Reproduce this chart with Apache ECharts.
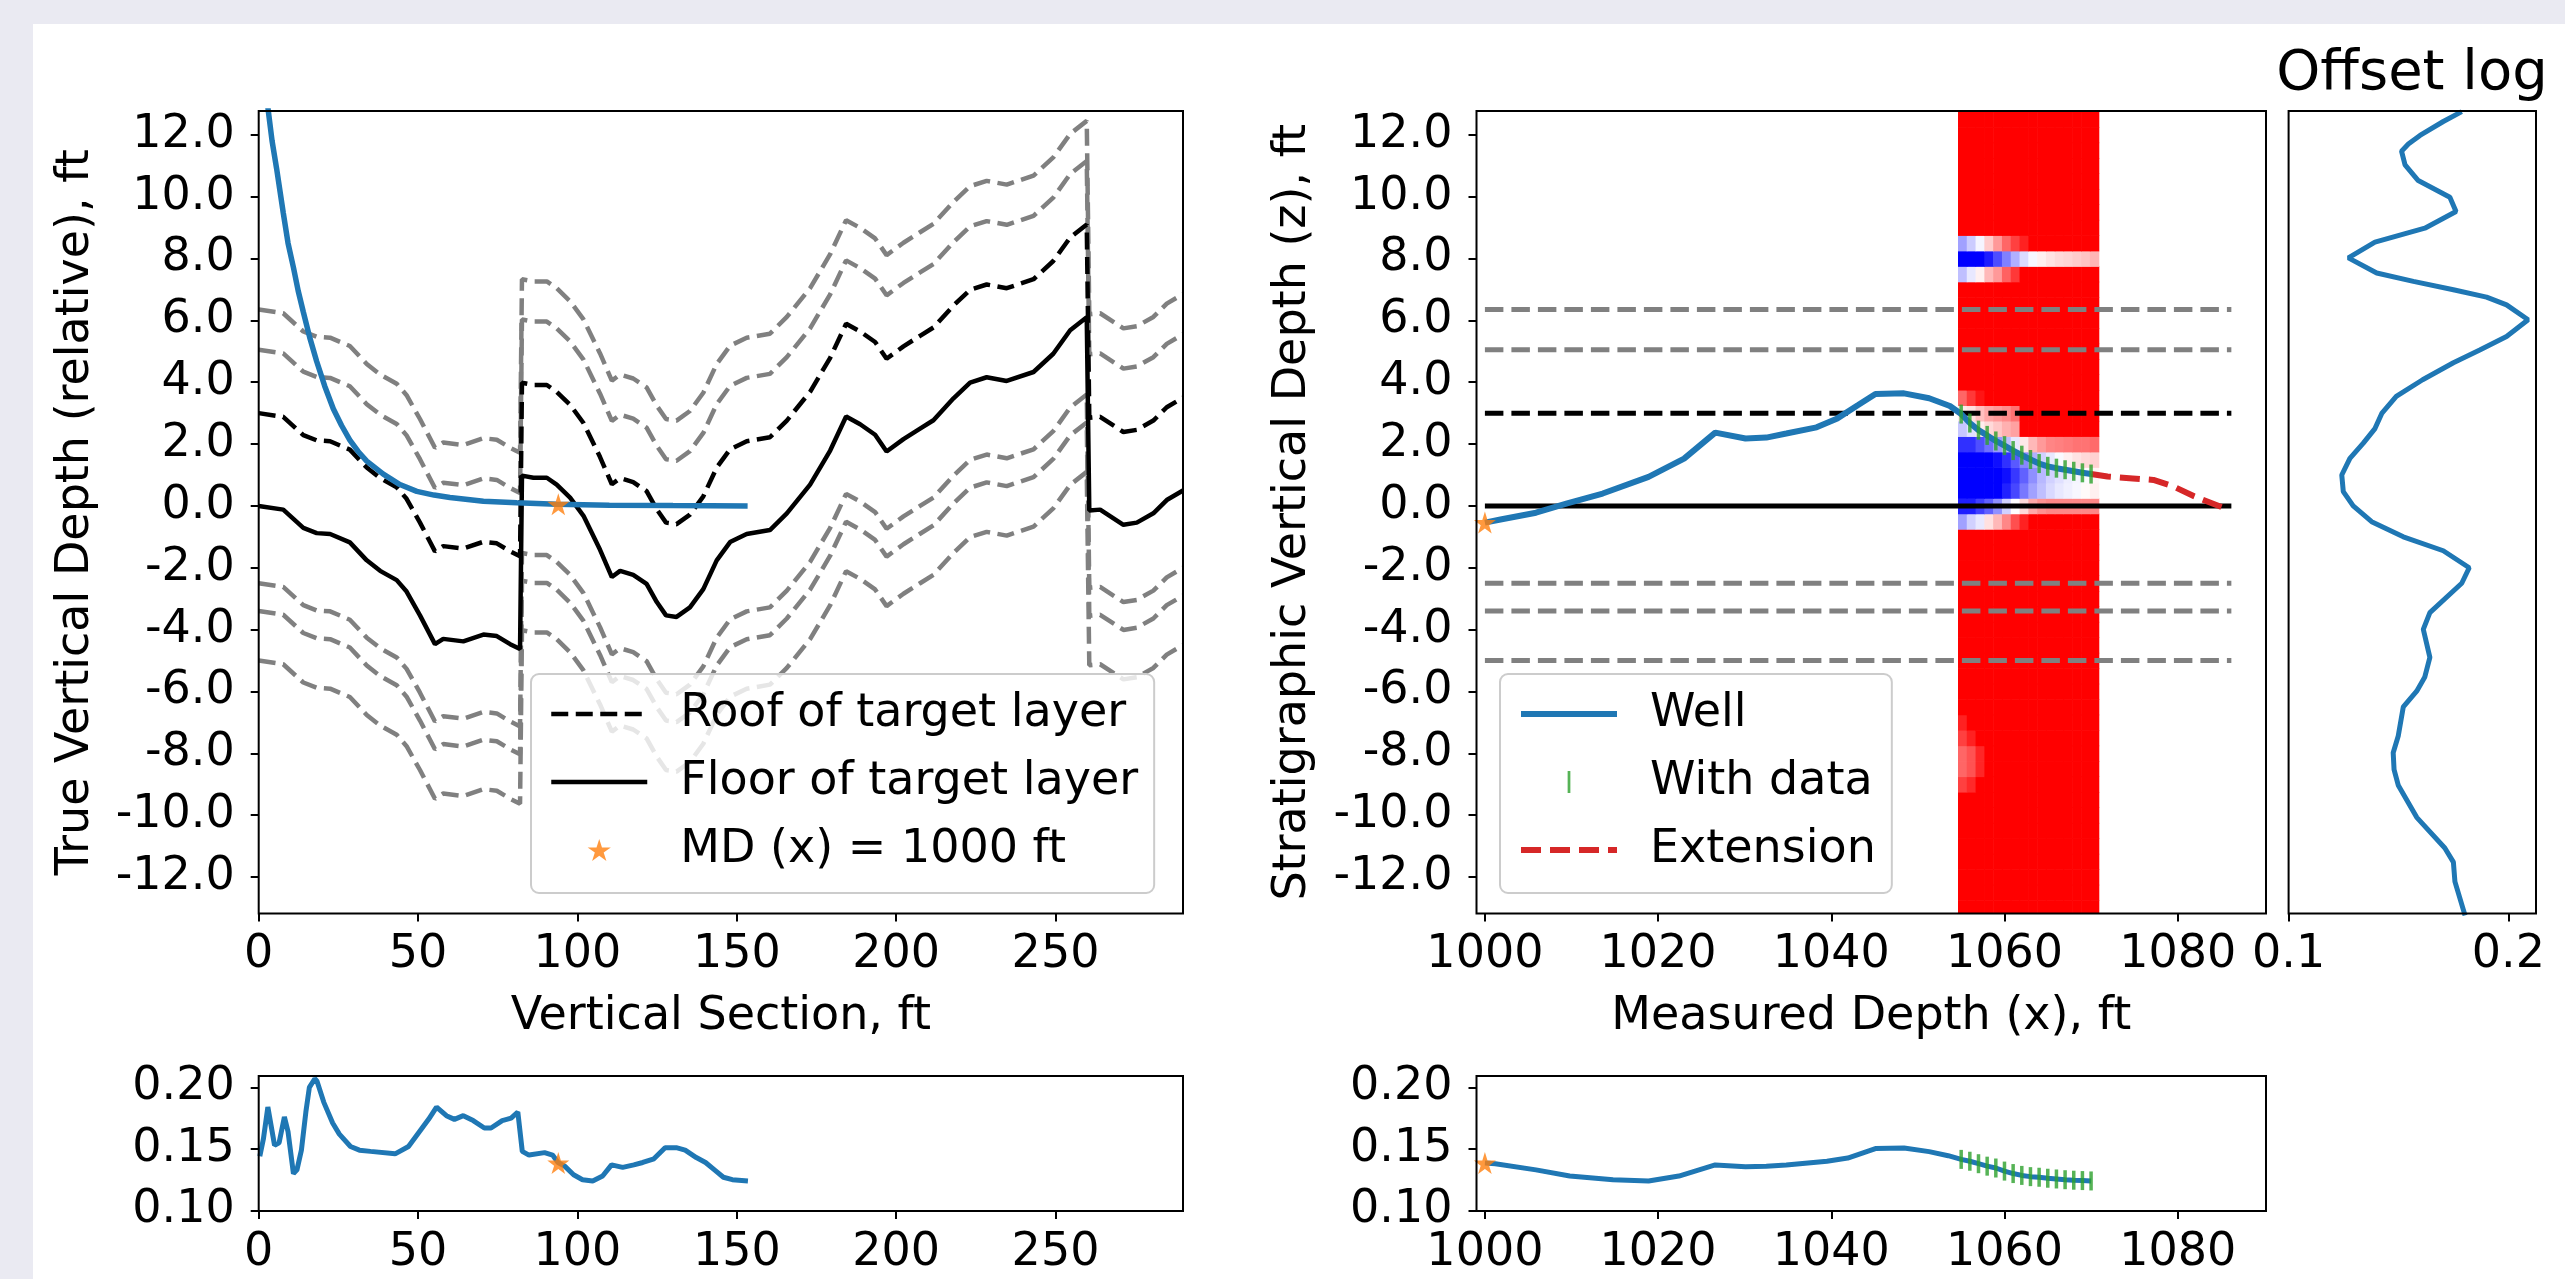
<!DOCTYPE html>
<html>
<head>
<meta charset="utf-8">
<script src="https://cdn.jsdelivr.net/npm/echarts@6/dist/echarts.min.js"></script>
<style>
html,body{margin:0;padding:0;background:#eaeaf2;}
#chart{width:2565px;height:1279px;}
</style>
</head>
<body>
<div id="chart"></div>
<script>
// ================= DATA =================
const vsTicks = [0, 50, 100, 150, 200, 250];
const mdTicks = [1000, 1020, 1040, 1060, 1080];
const depthTicks = [-12, -10, -8, -6, -4, -2, 0, 2, 4, 6, 8, 10, 12];
const logTicks = [0.10, 0.15, 0.20];
const offsetTicks = [0.1, 0.2];

// Floor of target layer along vertical section (with two faults)
const floorVS = [0, 7.7, 14, 18.2, 22.4, 28.6, 33.9, 38.1, 43.3, 46.4, 50.6, 55.3, 57.9, 64.2, 70.5, 74.7, 78.9, 82.0, 82.6, 86.2, 90.4, 93.5, 97.7, 101.9, 107.1, 110.8, 113.4, 117.5, 121.7, 124.9, 127.8, 131.1, 135.3, 139.5, 143.7, 147.9, 153.1, 160.4, 165.7, 173, 179.3, 184.3, 188.7, 193.4, 197.0, 202.3, 207.5, 211.7, 218, 223.2, 228.4, 234.7, 243.1, 249.3, 254.6, 259.8, 260.6, 264, 271.3, 275.5, 280.7, 284.9, 290];
const floorTVD = [0, -0.12, -0.71, -0.88, -0.91, -1.18, -1.76, -2.1, -2.4, -2.77, -3.54, -4.47, -4.3, -4.38, -4.16, -4.21, -4.47, -4.63, 0.98, 0.91, 0.91, 0.69, 0.27, -0.32, -1.42, -2.3, -2.1, -2.23, -2.52, -3.11, -3.54, -3.59, -3.28, -2.69, -1.76, -1.17, -0.91, -0.78, -0.24, 0.69, 1.79, 2.89, 2.64, 2.3, 1.76, 2.16, 2.5, 2.77, 3.48, 3.99, 4.16, 4.04, 4.33, 4.92, 5.68, 6.1, -0.15, -0.12, -0.61, -0.54, -0.24, 0.19, 0.5];

// Stratigraphic horizons (relative to floor)
const layerZ = [6.35, 5.05, 3.0, 0.0, -2.5, -3.4, -5.0];
const roofZ = 3.0;
const floorZ = 0.0;

// Well in TVD vs vertical section
const wellVS = [2.4, 3.0, 4.2, 5.6, 7.7, 9.2, 10.9, 12.4, 14, 16, 18.2, 20.7, 23.4, 26, 28.6, 31.2, 33.9, 39.1, 44.3, 49.6, 55, 60, 70.5, 81, 93.5, 110, 130, 153.4];
const wellTVD = [13.4, 12.78, 11.8, 10.92, 9.48, 8.5, 7.71, 6.95, 6.27, 5.45, 4.67, 3.88, 3.14, 2.6, 2.13, 1.76, 1.45, 1.03, 0.69, 0.47, 0.35, 0.27, 0.15, 0.1, 0.05, 0.02, 0.01, 0.0];
const startVS = 94, startTVD = 0.05;

// Well in stratigraphic coordinates
const wellMD = [1000, 1001.8, 1005.9, 1009.5, 1013.6, 1018.9, 1023, 1026.6, 1030.1, 1032.5, 1034.8, 1038.3, 1040.7, 1043.1, 1045.1, 1048.4, 1051.3, 1053.7, 1055, 1056, 1057, 1058, 1059, 1060, 1061, 1062, 1063, 1064, 1065, 1066, 1067, 1068, 1069, 1070];
const wellZ = [-0.54, -0.44, -0.22, 0.08, 0.40, 0.94, 1.53, 2.37, 2.18, 2.21, 2.34, 2.54, 2.83, 3.26, 3.62, 3.64, 3.48, 3.23, 2.97, 2.68, 2.45, 2.28, 2.10, 1.95, 1.79, 1.64, 1.50, 1.37, 1.28, 1.22, 1.17, 1.12, 1.07, 1.03];
const withDataMD = [1055, 1056, 1057, 1058, 1059, 1060, 1061, 1062, 1063, 1064, 1065, 1066, 1067, 1068, 1069, 1070];
const extMD = [1070, 1071.9, 1074.8, 1077.2, 1079.5, 1081.9, 1085.4];
const extZ = [1.03, 0.95, 0.89, 0.84, 0.63, 0.31, -0.07];
const startMD = 1000, startZ = -0.54;
const horizonMD = [1000, 1086.2];

// Similarity image (MD columns x z rows); rows not listed are fully red (1)
const hmMDRange = [1054.63, 1070.88];
const hmZRange = [-13.75, 13.25];
const hmRowZ = [8.5, 8.0, 7.5, 3.5, 3.0, 2.5, 2.0, 1.5, 1.0, 0.5, 0.0, -0.5, -7.0, -7.5, -8.0, -8.5, -9.0];
const hmRowVals = [
  [-0.37, -0.2, -0.04, 0.2, 0.4, 0.6, 0.75, 0.87, 1, 1, 1, 1, 1, 1, 1, 1],
  [-1, -1, -1, -0.89, -0.7, -0.5, -0.31, -0.14, -0.03, 0.06, 0.11, 0.15, 0.17, 0.2, 0.23, 0.29],
  [-0.25, -0.09, 0.06, 0.28, 0.4, 0.62, 0.78, 1, 1, 1, 1, 1, 1, 1, 1, 1],
  [0.6, 0.78, 0.92, 1, 1, 1, 1, 1, 1, 1, 1, 1, 1, 1, 1, 1],
  [0.08, 0.12, 0.25, 0.35, 0.4, 0.45, 0.55, 1, 1, 1, 1, 1, 1, 1, 1, 1],
  [-0.22, -0.12, 0.07, 0.15, 0.22, 0.31, 0.37, 1, 1, 1, 1, 1, 1, 1, 1, 1],
  [-0.81, -0.81, -0.69, -0.56, -0.4, -0.25, -0.09, 0.09, 0.28, 0.4, 0.48, 0.5, 0.52, 0.55, 0.55, 0.58],
  [-1, -1, -1, -1, -0.94, -0.81, -0.65, -0.47, -0.31, -0.18, -0.09, -0.02, 0.06, 0.11, 0.15, 0.18],
  [-1, -1, -1, -1, -1, -0.94, -0.78, -0.62, -0.44, -0.28, -0.18, -0.12, -0.07, -0.04, -0.01, 0.04],
  [-1, -1, -1, -1, -1, -0.87, -0.72, -0.53, -0.37, -0.25, -0.15, -0.09, -0.06, -0.03, 0.02, 0.06],
  [-0.88, -0.88, -0.75, -0.62, -0.43, -0.18, 0.0, 0.15, 0.34, 0.43, 0.47, 0.47, 0.47, 0.47, 0.47, 0.47],
  [-0.37, -0.18, -0.09, 0.12, 0.28, 0.47, 0.69, 0.87, 1, 1, 1, 1, 1, 1, 1, 1],
  [0.87, 1, 1, 1, 1, 1, 1, 1, 1, 1, 1, 1, 1, 1, 1, 1],
  [0.75, 0.87, 1, 1, 1, 1, 1, 1, 1, 1, 1, 1, 1, 1, 1, 1],
  [0.6, 0.68, 0.85, 1, 1, 1, 1, 1, 1, 1, 1, 1, 1, 1, 1, 1],
  [0.6, 0.68, 0.85, 1, 1, 1, 1, 1, 1, 1, 1, 1, 1, 1, 1, 1],
  [0.75, 0.84, 1, 1, 1, 1, 1, 1, 1, 1, 1, 1, 1, 1, 1, 1]
];
const hmRowStep = 0.5;
const hmDefault = 1;

// Offset log (value vs z)
const offsetZ = [12.75, 12.43, 11.98, 11.7, 11.47, 11.03, 10.52, 9.98, 9.52, 8.98, 8.53, 8.02, 7.53, 7.26, 6.99, 6.75, 6.5, 6.02, 5.48, 5.04, 4.63, 4.08, 3.54, 2.99, 2.5, 2.03, 1.54, 1.0, 0.46, 0.0, -0.51, -1.0, -1.45, -2.0, -2.5, -3.45, -3.99, -4.9, -5.53, -5.99, -6.5, -7.44, -7.98, -8.53, -9.03, -10.07, -11.06, -11.52, -12.15, -13.24];
const offsetVal = [0.1788, 0.1704, 0.1598, 0.1545, 0.1514, 0.153, 0.159, 0.1734, 0.1762, 0.162, 0.1393, 0.1272, 0.1401, 0.1568, 0.175, 0.1901, 0.1992, 0.209, 0.1992, 0.187, 0.175, 0.161, 0.149, 0.1424, 0.1393, 0.134, 0.1279, 0.1242, 0.1249, 0.1294, 0.1378, 0.1522, 0.1704, 0.1822, 0.1788, 0.1643, 0.1613, 0.1643, 0.162, 0.1583, 0.1522, 0.1499, 0.1476, 0.148, 0.1499, 0.1583, 0.1711, 0.175, 0.1757, 0.1803];

// Log along the well vs vertical section
const logVS = [0.35, 1.47, 2.87, 4.97, 6.4, 8.06, 9.2, 10.9, 12, 13.4, 14.8, 15.9, 17.6, 18.3, 20.4, 23.2, 25.3, 28.8, 31.6, 35.1, 42.8, 47, 53.3, 55.8, 58.9, 61.4, 64.2, 67.3, 70.8, 72.9, 76.4, 79.2, 81.3, 82.7, 84.8, 89.7, 92.2, 93.9, 96, 98.8, 101.6, 104.8, 107.9, 110.7, 114.2, 117.7, 120.5, 124, 127.5, 131, 133.8, 137.3, 140.2, 143, 145.8, 148.6, 153.5];
const logVSVal = [0.144, 0.158, 0.184, 0.153, 0.155, 0.176, 0.164, 0.130, 0.133, 0.149, 0.180, 0.200, 0.207, 0.205, 0.188, 0.171, 0.162, 0.152, 0.149, 0.148, 0.146, 0.152, 0.174, 0.184, 0.177, 0.174, 0.177, 0.173, 0.167, 0.167, 0.173, 0.175, 0.180, 0.148, 0.145, 0.147, 0.145, 0.139, 0.136, 0.129, 0.125, 0.124, 0.128, 0.137, 0.135, 0.137, 0.139, 0.142, 0.151, 0.151, 0.149, 0.143, 0.139, 0.133, 0.127, 0.125, 0.124];
const startLogVal = 0.1385;

// Log along the well vs measured depth
const logMD = [1000, 1001.2, 1005.9, 1009.8, 1014.8, 1018.9, 1022.4, 1026.6, 1030.1, 1032.5, 1034.8, 1039.5, 1041.9, 1045.1, 1048.4, 1051.3, 1053.5, 1055, 1056, 1057, 1058, 1059, 1060, 1061, 1062, 1063, 1064, 1065, 1066, 1067, 1068, 1069, 1070];
const logMDVal = [0.1385, 0.138, 0.133, 0.128, 0.125, 0.124, 0.128, 0.137, 0.1355, 0.136, 0.137, 0.140, 0.1426, 0.1503, 0.1508, 0.1478, 0.1445, 0.1415, 0.140, 0.138, 0.136, 0.1345, 0.132, 0.130, 0.1285, 0.1275, 0.127, 0.1262, 0.1256, 0.125, 0.1246, 0.1243, 0.124];

// ================= STYLE =================
const FONT = 'DejaVu Sans';
const BLUE = '#1f77b4', ORANGE = '#ff7f0e', GREEN = '#2ca02c', RED = '#d62728', GRAY = '#808080', BLACK = '#000000';
const STAR = 'path://M50,0 L61.2,34.5 L97.6,34.5 L68.2,55.9 L79.4,90.5 L50,69.1 L20.6,90.5 L31.8,55.9 L2.4,34.5 L38.8,34.5 Z';
const TICK = 'path://M0,0 H1 V8 H0 Z';
const FS = 46;
const DASH_L = [17, 7.5];
const DASH_R = [18.5, 8];

const zip = (a, b) => a.map((v, i) => [v, b[i]]);

// ================= LAYOUT =================
const grids = [
  {left: 258.7, top: 111, width: 924.3, height: 802.5},   // 0 left main
  {left: 1476.5, top: 111, width: 789.5, height: 802.5},  // 1 right main
  {left: 2288.6, top: 111, width: 247.4, height: 802.5},  // 2 offset log
  {left: 258.7, top: 1076, width: 924.3, height: 135},    // 3 bottom left
  {left: 1476.5, top: 1076, width: 789.5, height: 135}    // 4 bottom right
].map(g => Object.assign({show: true, borderColor: BLACK, borderWidth: 2, backgroundColor: 'transparent', z: 10}, g));

function axis(gridIndex, min, max, ticks, fmt, name, nameGap, isY) {
  const a = {
    type: 'value', gridIndex, min, max, scale: true,
    axisLine: {show: false, onZero: false}, splitLine: {show: false},
    axisTick: {show: ticks.length > 0, customValues: ticks, length: 8, lineStyle: {color: BLACK, width: 2}},
    axisLabel: {show: ticks.length > 0, customValues: ticks, formatter: fmt, fontSize: FS, color: BLACK, fontFamily: FONT, margin: isY ? 24 : 19},
    z: 10
  };
  if (name) {
    a.name = name; a.nameLocation = 'middle'; a.nameGap = nameGap;
    a.nameTextStyle = {fontSize: FS, color: BLACK, fontFamily: FONT};
    if (isY) a.nameRotate = 90;
  }
  return a;
}
const f1 = v => v.toFixed(1);
const f0 = v => String(Math.round(v));
const f2 = v => v.toFixed(2);
const Y_MIN = -13.18, Y_MAX = 12.77;
const MD_MIN = 999.03, MD_MAX = 1090.2;
const VS_MIN = 0, VS_MAX = 290;
const LOG_MIN = 0.0996, LOG_MAX = 0.2092;

const xAxes = [
  axis(0, VS_MIN, VS_MAX, vsTicks, f0, 'Vertical Section, ft', 81, false),
  axis(1, MD_MIN, MD_MAX, mdTicks, f0, 'Measured Depth (x), ft', 81, false),
  axis(2, 0.1, 0.2126, offsetTicks, f1, null, 0, false),
  axis(3, VS_MIN, VS_MAX, vsTicks, f0, null, 0, false),
  axis(4, MD_MIN, MD_MAX, mdTicks, f0, null, 0, false)
];
const yAxes = [
  axis(0, Y_MIN, Y_MAX, depthTicks, f1, 'True Vertical Depth (relative), ft', 160, true),
  axis(1, Y_MIN, Y_MAX, depthTicks, f1, 'Stratigraphic Vertical Depth (z), ft', 160, true),
  axis(2, Y_MIN, Y_MAX, [], f1, null, 0, true),
  axis(3, LOG_MIN, LOG_MAX, logTicks, f2, null, 0, true),
  axis(4, LOG_MIN, LOG_MAX, logTicks, f2, null, 0, true)
];

// ================= SERIES =================
const series = [];
function lineS(name, gi, data, color, width, dash, z) {
  series.push({type: 'line', name, xAxisIndex: gi, yAxisIndex: gi, data, symbol: 'none', showSymbol: false,
    color, itemStyle: {color}, lineStyle: {color, width, type: dash || 'solid', cap: 'butt'}, z: z || 2,
    silent: true, clip: true, animation: false});
}
function starS(name, gi, pt) {
  series.push({type: 'scatter', name, xAxisIndex: gi, yAxisIndex: gi, data: [pt], symbol: STAR, symbolSize: 22,
    itemStyle: {color: ORANGE}, z: 8, silent: true, clip: false, animation: false});
}
function tickS(name, gi, data) {
  series.push({type: 'scatter', name, xAxisIndex: gi, yAxisIndex: gi, data, symbol: TICK, symbolSize: [3.5, 19],
    itemStyle: {color: GREEN}, z: 7, silent: true, clip: false, animation: false});
}

// --- Left main: horizons along section ---
layerZ.forEach(off => {
  if (off === roofZ || off === floorZ) return;
  lineS('horizon ' + off, 0, floorVS.map((v, i) => [v, floorTVD[i] + off]), GRAY, 4.5, DASH_L, 2);
});
lineS('Roof of target layer', 0, floorVS.map((v, i) => [v, floorTVD[i] + roofZ]), BLACK, 4.5, DASH_L, 3);
lineS('Floor of target layer', 0, zip(floorVS, floorTVD), BLACK, 4.5, null, 3);
lineS('Well (section)', 0, zip(wellVS, wellTVD), BLUE, 5.5, null, 4);
starS('MD (x) = 1000 ft', 0, [startVS, startTVD]);

// --- Right main: similarity image ---
const hmCols = hmRowVals[0].length;
const heatData = [];
const nRows = Math.round((hmZRange[1] - hmZRange[0]) / hmRowStep);
const colW = (hmMDRange[1] - hmMDRange[0]) / hmCols;
for (let r = 0; r < nRows; r++) {
  const z0 = hmZRange[0] + r * hmRowStep, z1 = z0 + hmRowStep, zc = (z0 + z1) / 2;
  const ri = hmRowZ.findIndex(z => Math.abs(z - zc) < 1e-6);
  for (let c = 0; c < hmCols; c++) {
    const v = ri >= 0 ? hmRowVals[ri][c] : hmDefault;
    heatData.push([hmMDRange[0] + c * colW, hmMDRange[0] + (c + 1) * colW, z0, z1, v]);
  }
}
const HEAT_IDX = series.length;
series.push({
  type: 'custom', name: 'similarity', xAxisIndex: 1, yAxisIndex: 1, data: heatData, z: 1, silent: true, animation: false,
  encode: {x: [0, 1], y: [2, 3]},
  renderItem: function (params, api) {
    const p0 = api.coord([api.value(0), api.value(3)]);
    const p1 = api.coord([api.value(1), api.value(2)]);
    const cs = params.coordSys;
    const rect = echarts.graphic.clipRectByRect(
      {x: p0[0], y: p0[1], width: p1[0] - p0[0] + 0.6, height: p1[1] - p0[1] + 0.6},
      {x: cs.x, y: cs.y, width: cs.width, height: cs.height});
    return rect && {type: 'rect', shape: rect, style: {fill: api.visual('color')}};
  }
});

// --- Right main: horizons ---
layerZ.forEach(z => {
  const isRoof = z === roofZ, isFloor = z === floorZ;
  lineS('z ' + z, 1, horizonMD.map(m => [m, z]), (isRoof || isFloor) ? BLACK : GRAY, 5, isFloor ? null : DASH_R, 2);
});
lineS('Well', 1, zip(wellMD, wellZ), BLUE, 6, null, 4);
lineS('Extension', 1, zip(extMD, extZ), RED, 6, [20, 9], 5);
tickS('With data', 1, withDataMD.map(m => [m, wellZ[wellMD.indexOf(m)]]));
starS('start (z)', 1, [startMD, startZ]);

// --- Offset log ---
lineS('Offset log', 2, zip(offsetVal, offsetZ), BLUE, 5, null, 3);

// --- Bottom logs ---
lineS('log (section)', 3, zip(logVS, logVSVal), BLUE, 5, null, 3);
starS('start log (section)', 3, [startVS, startLogVal]);
lineS('log (MD)', 4, zip(logMD, logMDVal), BLUE, 5, null, 3);
tickS('with data log', 4, withDataMD.map(m => [m, logMDVal[logMD.indexOf(m)]]));
starS('start log (MD)', 4, [startMD, startLogVal]);

// ================= LEGENDS =================
const legendBase = {
  orient: 'vertical', itemWidth: 96, itemHeight: 22, itemGap: 20, selectedMode: false, z: 20,
  backgroundColor: 'rgba(255,255,255,0.8)', borderColor: '#cccccc', borderWidth: 2, borderRadius: 8,
  padding: [16, 16, 19, 18],
  textStyle: {fontSize: FS, color: BLACK, fontFamily: FONT, padding: [0, 0, 0, 28], lineHeight: 48}
};
const legends = [
  Object.assign({}, legendBase, {left: 531, top: 674, data: [
    {name: 'Roof of target layer', itemStyle: {opacity: 0}, lineStyle: {width: 4.5, type: DASH_L}},
    {name: 'Floor of target layer', itemStyle: {opacity: 0}, lineStyle: {width: 4.5, type: 'solid'}},
    {name: 'MD (x) = 1000 ft'}
  ]}),
  Object.assign({}, legendBase, {left: 1500, top: 674, data: [
    {name: 'Well', itemStyle: {opacity: 0}, lineStyle: {width: 6, type: 'solid'}},
    {name: 'With data'},
    {name: 'Extension', itemStyle: {opacity: 0}, lineStyle: {width: 6, type: [20, 9]}}
  ]})
];

const option = {
  animation: false,
  backgroundColor: '#eaeaf2',
  textStyle: {fontFamily: FONT},
  grid: grids,
  xAxis: xAxes,
  yAxis: yAxes,
  visualMap: [{type: 'continuous', show: false, seriesIndex: HEAT_IDX, dimension: 4, min: -1, max: 1,
    inRange: {color: ['#0000ff', '#ffffff', '#ff0000']}}],
  legend: legends,
  graphic: [
    {type: 'rect', left: 33, top: 24, shape: {width: 2532, height: 1255}, style: {fill: '#ffffff'}, z: -5, silent: true},
    {type: 'text', x: 2412, y: 46, z: 5, silent: true,
      style: {text: 'Offset log', fontSize: 56, fontFamily: FONT, fill: BLACK, align: 'center', verticalAlign: 'top'}}
  ],
  series
};

const chart = echarts.init(document.getElementById('chart'), null, {renderer: 'canvas', width: 2565, height: 1279});
chart.setOption(option);
</script>
</body>
</html>
